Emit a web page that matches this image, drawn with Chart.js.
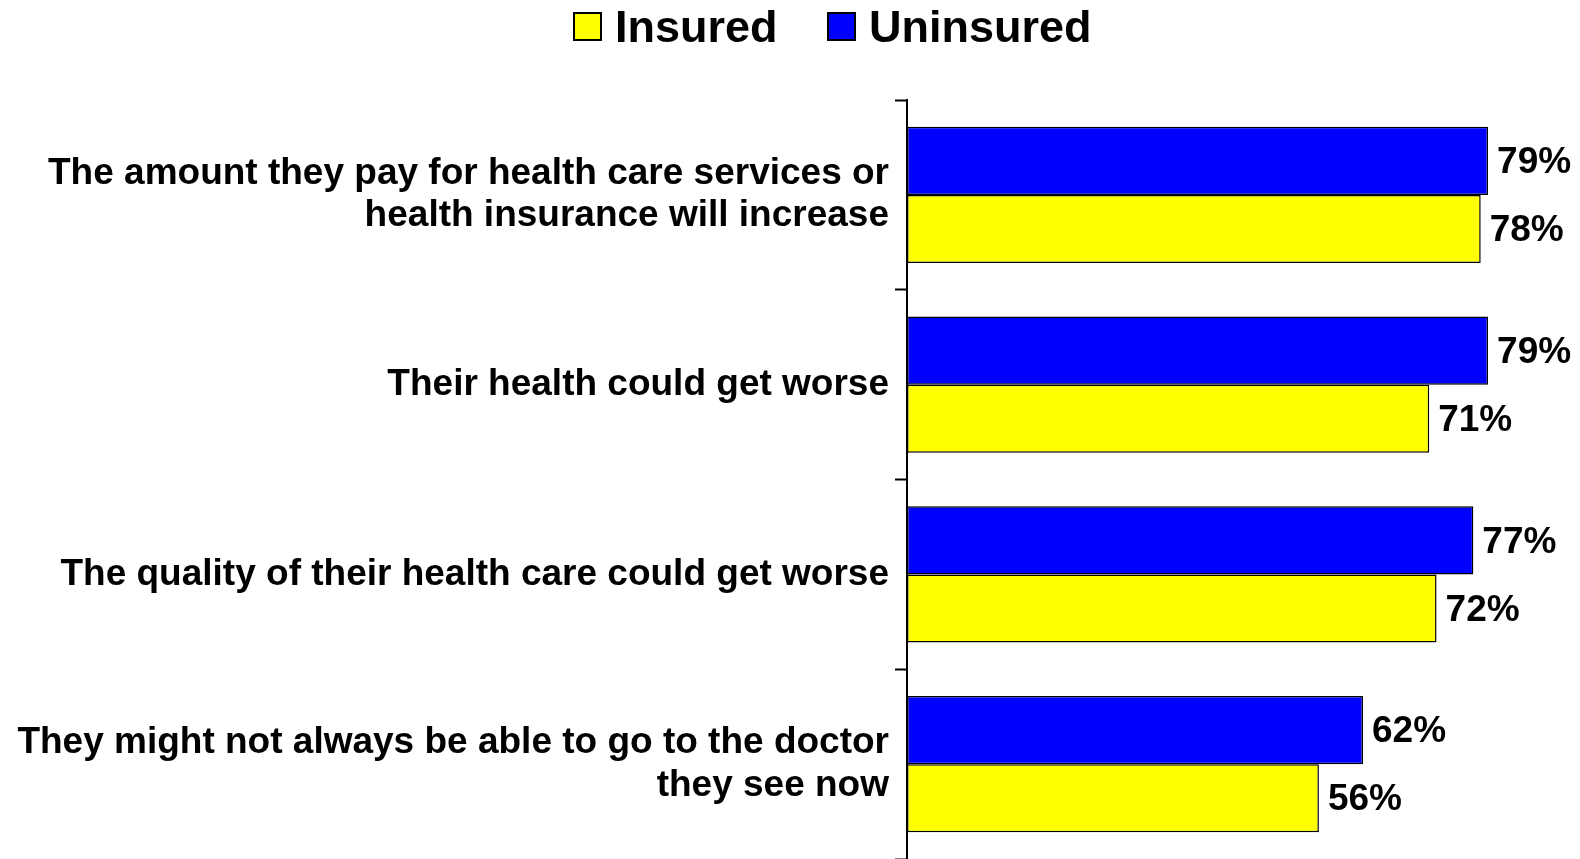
<!DOCTYPE html>
<html>
<head>
<meta charset="utf-8">
<title>Worries about health care</title>
<script src="https://cdn.jsdelivr.net/npm/chart.js@4/dist/chart.umd.min.js"></script>
<style>
  html, body { margin: 0; padding: 0; background: #fff; }
  #wrap { width: 1580px; height: 859px; }
</style>
</head>
<body>
<div id="wrap"><canvas id="chart" width="1580" height="859"></canvas></div>
<script>
// Survey items (multi-line labels break where the slide breaks them)
const categories = [
  ["The amount they pay for health care services or", "health insurance will increase"],
  "Their health could get worse",
  "The quality of their health care could get worse",
  ["They might not always be able to go to the doctor", "they see now"]
];
const uninsured = [79, 79, 77, 62];
const insured = [78, 71, 72, 56];

const FONT = "'Liberation Sans', Arial, sans-serif";

// Writes "NN%" just past the end of each bar
const valueLabels = {
  id: "valueLabels",
  afterDatasetsDraw(chart) {
    const ctx = chart.ctx;
    ctx.save();
    ctx.font = "bold 37px " + FONT;
    ctx.fillStyle = "#000";
    ctx.textAlign = "left";
    ctx.textBaseline = "middle";
    chart.data.datasets.forEach((ds, i) => {
      chart.getDatasetMeta(i).data.forEach((bar, j) => {
        ctx.fillText(ds.data[j] + "%", bar.x + 9, bar.y + 2);
      });
    });
    ctx.restore();
  }
};

// Legend row across the top: Insured first, then Uninsured
const topLegend = {
  id: "topLegend",
  afterDraw(chart) {
    const ctx = chart.ctx;
    const items = [
      { ds: chart.data.datasets[1], x: 574 },
      { ds: chart.data.datasets[0], x: 828 }
    ];
    ctx.save();
    ctx.font = "bold 45px " + FONT;
    ctx.textBaseline = "alphabetic";
    ctx.textAlign = "left";
    items.forEach(it => {
      ctx.fillStyle = it.ds.backgroundColor;
      ctx.fillRect(it.x, 13, 27, 27);
      ctx.lineWidth = 2;
      ctx.strokeStyle = "#000";
      ctx.strokeRect(it.x, 13, 27, 27);
      ctx.fillStyle = "#000";
      ctx.fillText(it.ds.label, it.x + 41, 42);
    });
    ctx.restore();
  }
};

const ctx = document.getElementById("chart").getContext("2d");
new Chart(ctx, {
  type: "bar",
  data: {
    labels: categories,
    datasets: [
      {
        label: "Uninsured",
        data: uninsured,
        backgroundColor: "#0000ff",
        borderColor: "#000",
        borderWidth: 1.5,
        borderSkipped: false
      },
      {
        label: "Insured",
        data: insured,
        backgroundColor: "#ffff00",
        borderColor: "#000",
        borderWidth: 1.5,
        borderSkipped: false
      }
    ]
  },
  options: {
    indexAxis: "y",
    responsive: false,
    animation: false,
    layout: { padding: { left: 0, right: 0, top: 100, bottom: -3 } },
    datasets: {
      bar: { categoryPercentage: 0.718, barPercentage: 1.0 }
    },
    plugins: {
      legend: { display: false },
      tooltip: { enabled: false }
    },
    scales: {
      x: {
        display: false,
        min: 0,
        max: 91.5
      },
      y: {
        afterFit(scale) {
          scale.width = 907;
          scale.paddingTop = 0;
          scale.paddingBottom = 0;
        },
        grid: {
          display: true,
          drawOnChartArea: false,
          drawTicks: true,
          tickLength: 12,
          tickWidth: 2,
          color: "#000",
          offset: true
        },
        border: { display: true, color: "#000", width: 2 },
        ticks: {
          font: { family: FONT, size: 37, weight: "bold", lineHeight: 1.15 },
          color: "#000",
          padding: 6
        }
      }
    }
  },
  plugins: [valueLabels, topLegend]
});
</script>
</body>
</html>
